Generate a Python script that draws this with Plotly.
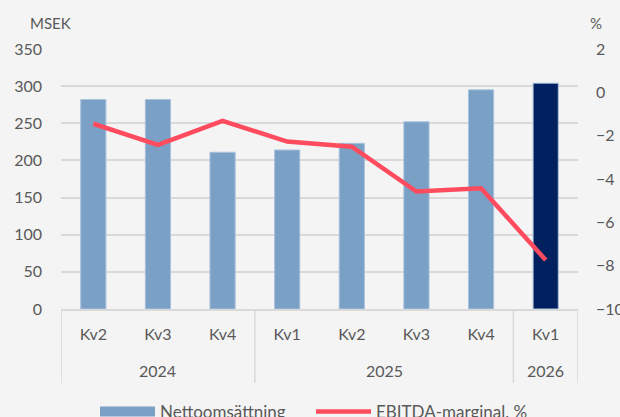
import plotly.graph_objects as go

years = ["2024", "2024", "2024", "2025", "2025", "2025", "2025", "2026"]
quarters = ["Kv2", "Kv3", "Kv4", "Kv1", "Kv2", "Kv3", "Kv4", "Kv1"]
nettoomsattning = [282, 282, 211, 214, 223, 252, 295, 304]
ebitda_marginal = [-1.45, -2.43, -1.32, -2.27, -2.51, -4.58, -4.43, -7.74]
bar_colors = ["#7BA0C6"] * 7 + ["#002060"]

FONT = "Lato, 'Liberation Sans', sans-serif"
GREY = "#595959"
DIV = "#D9D9D9"

idx = list(range(len(quarters)))

fig = go.Figure()
fig.add_trace(go.Bar(
    x=idx, y=nettoomsattning, name="Nettoomsättning", showlegend=False,
    marker=dict(color=bar_colors, line=dict(color="#A9C2DD", width=1)),
    width=0.39, yaxis="y",
))
# legend key for the bars (wide rectangle as in the reference)
fig.add_trace(go.Scatter(
    x=[None], y=[None], name="Nettoomsättning", mode="lines",
    line=dict(color="#7BA0C6", width=13), yaxis="y", hoverinfo="skip",
))
fig.add_trace(go.Scatter(
    x=idx, y=ebitda_marginal, name="EBITDA-marginal, %",
    mode="lines", line=dict(color="#FF4B5E", width=4.5), yaxis="y2",
))

# year groups: labels and divider lines below the x axis
groups = []
for i, yv in enumerate(years):
    if not groups or groups[-1][0] != yv:
        groups.append([yv, i, i])
    else:
        groups[-1][2] = i

annotations = []
shapes = []
div_bottom = (309 - 383) / 260
for yv, a, b in groups:
    annotations.append(dict(text=yv, x=(a + b) / 2, xref="x", y=(309 - 370) / 260, yref="paper",
                            showarrow=False, xanchor="center", yanchor="middle",
                            font=dict(size=16, color=GREY)))
    shapes.append(dict(type="line", xref="x", yref="paper", x0=a - 0.5, x1=a - 0.5,
                       y0=0, y1=div_bottom, line=dict(color=DIV, width=1.5)))
last = groups[-1][2]
shapes.append(dict(type="line", xref="x", yref="paper", x0=last + 0.5, x1=last + 0.5,
                   y0=0, y1=div_bottom, line=dict(color=DIV, width=1.5)))

annotations += [
    dict(text="MSEK", x=(50 - 61) / 517, y=(309 - 23) / 260, xref="paper", yref="paper",
         showarrow=False, xanchor="center", yanchor="middle", font=dict(size=15, color=GREY)),
    dict(text="%", x=(596 - 61) / 517, y=(309 - 23) / 260, xref="paper", yref="paper",
         showarrow=False, xanchor="center", yanchor="middle", font=dict(size=15, color=GREY)),
]

fig.update_layout(
    width=620, height=417,
    margin=dict(l=61, r=42, t=49, b=108, autoexpand=False),
    paper_bgcolor="#F4F4F4", plot_bgcolor="#F4F4F4",
    font=dict(family=FONT, size=16, color=GREY),
    showlegend=True,
    legend=dict(orientation="h", x=(95 - 61) / 517, xanchor="left", y=-0.327, yanchor="top",
                itemwidth=55, entrywidth=146, entrywidthmode="pixels",
                font=dict(size=17, color=GREY), bgcolor="rgba(0,0,0,0)"),
    xaxis=dict(range=[-0.5, len(quarters) - 0.5], tickvals=idx, ticktext=quarters,
               showgrid=False, zeroline=False, showline=True,
               linecolor=DIV, linewidth=1.5, ticks="", automargin=False,
               ticklabelstandoff=10, tickfont=dict(size=16, color=GREY)),
    yaxis=dict(range=[0, 350], tickvals=[0, 50, 100, 150, 200, 250, 300, 350],
               showgrid=True, gridcolor=DIV, gridwidth=1.5, automargin=False,
               zeroline=False, showline=False, ticks="", ticklabelstandoff=18,
               tickfont=dict(size=16, color=GREY)),
    yaxis2=dict(range=[-10, 2], tickvals=[-10, -8, -6, -4, -2, 0, 2],
                overlaying="y", side="right", showgrid=False, zeroline=False,
                showline=False, ticks="", ticklabelstandoff=17, automargin=False,
                tickfont=dict(size=16, color=GREY)),
    annotations=annotations,
    shapes=shapes,
)

fig.write_html("out.html", config={"displayModeBar": False},
               post_script="document.body.style.margin='0px';")
